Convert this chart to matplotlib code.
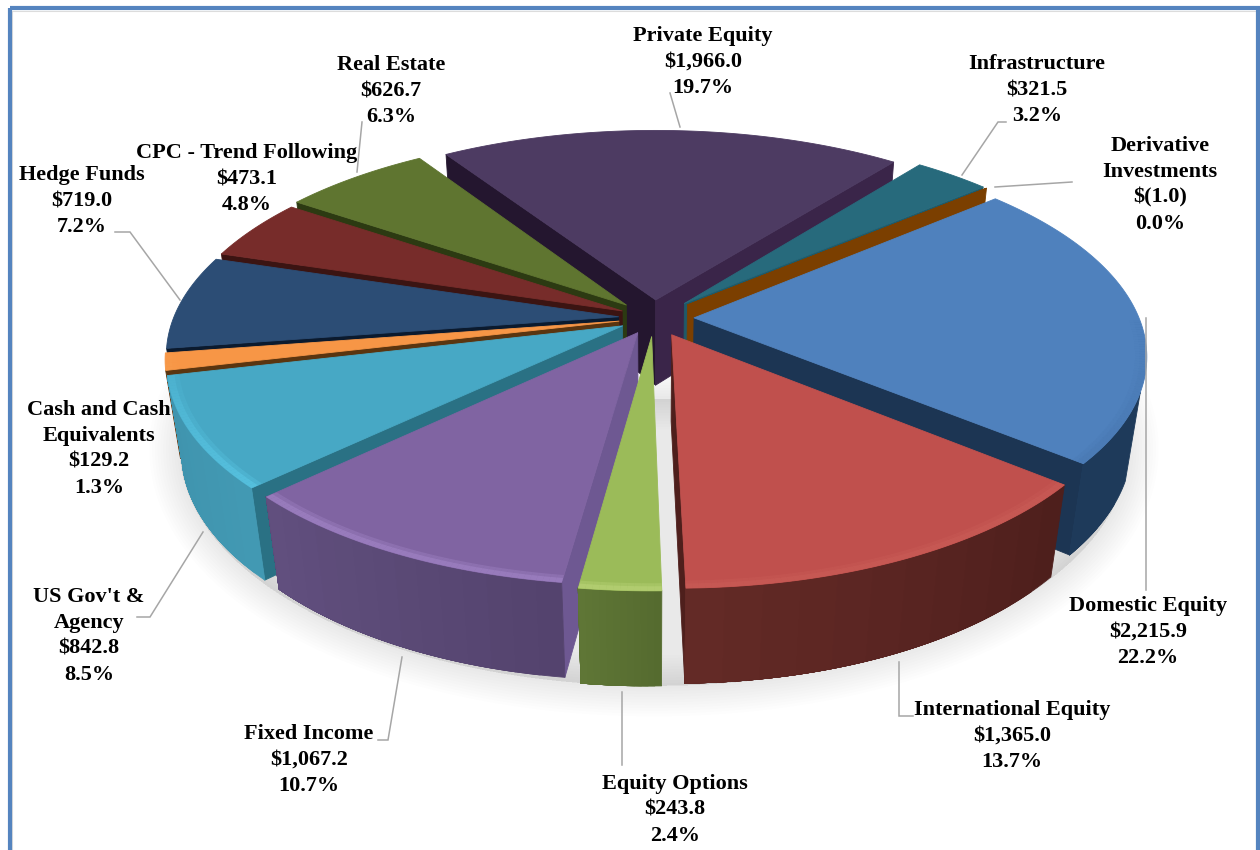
import numpy as np
import matplotlib
matplotlib.use("Agg")
import matplotlib.pyplot as plt
from matplotlib.patches import Polygon, Rectangle

# Portfolio allocation, in clockwise order
categories = ["Domestic Equity", "International Equity", "Equity Options", "Fixed Income",
              "US Gov't &\nAgency", "Cash and Cash\nEquivalents", "Hedge Funds",
              "CPC - Trend Following", "Real Estate", "Private Equity", "Infrastructure",
              "Derivative\nInvestments"]
amounts = [2215.9, 1365.0, 243.8, 1067.2, 842.8, 129.2, 719.0, 473.1, 626.7, 1966.0, 321.5, -1.0]
percents = ["22.2%", "13.7%", "2.4%", "10.7%", "8.5%", "1.3%", "7.2%", "4.8%", "6.3%", "19.7%", "3.2%", "0.0%"]

explode = [.09, .09, .09, .08, .08, .08, .08, .08, .09, .09, .10, .10]
top_colors = ["#4f81bd", "#c0504d", "#9bbb59", "#8064a2", "#47a8c5", "#f79646",
              "#2c4d75", "#772c2a", "#5f7530", "#4d3b62", "#276a7c", "#7b3f00"]
wall_left = ["#1e3a5a", "#652b27", "#5f7636", "#62507f", "#3f93ad", "#5a3510",
             "#10233c", "#3b1412", "#2c3a12", "#2a1a38", "#1f5a69", "#5a2e00"]
wall_right = ["#1e3a5a", "#4e1f1c", "#556b2f", "#54436e", "#4299b3", "#5a3510",
              "#10233c", "#3b1412", "#2c3a12", "#2a1a38", "#1f5a69", "#5a2e00"]
radial_cw = ["#1c3553", "#4e1f1c", "#5c7033", "#6e5892", "#2a7184", "#5a3510",
             "#0b1a2e", "#3b1412", "#2c3a12", "#3a2549", "#1f5a69", "#7b3f00"]
radial_ccw = ["#1c3553", "#612b27", "#5c7033", "#6e5892", "#2a7184", "#5a3510",
              "#0b1a2e", "#3b1412", "#2c3a12", "#24162f", "#1f5a69", "#7b3f00"]
rim_colors = ["#4a7ab4", "#c85a55", "#b4cf72", "#9c7fc0", "#58c4e2", "#f7a050",
              "#2c4d75", "#772c2a", "#5f7530", "#4d3b62", "#276a7c", "#7b3f00"]

label_xy = [(1148, 632), (1012, 736), (675, 810), (309, 760), (89, 636), (99, 449),
            (82, 201), (247, 179), (391, 91), (703, 62), (1037, 90), (1160, 185)]

leaders = [[(1146, 318), (1146, 590)], [(913, 716), (899, 716), (899, 662)],
           [(622, 692), (622, 765)], [(378, 740), (388, 740), (402, 657)],
           [(137, 617), (150, 617), (203, 532)], [(115, 232), (130, 232), (180, 300)],
           [(362, 122), (357, 172)], [(670, 93), (680, 127)],
           [(1006, 122), (998, 122), (962, 175)], [(1072, 182), (995, 187)]]

# Projection of the pie plane onto the page, with the far side foreshortened
CX, CY = 654.0, 318.0
RX, RY = 445.0, 204.0
PERSP = 0.17
DROP_W, DROP_H = 0.03, 88.5
START_DEG = 40.4


def project(u, v, lower=False):
    w = 1 + PERSP * v + (DROP_W if lower else 0)
    h = DROP_H if lower else 0
    return CX + RX * u / w, CY + (-RY * v + h) / w


def mix(c1, c2, t):
    a, b = np.array(matplotlib.colors.to_rgb(c1)), np.array(matplotlib.colors.to_rgb(c2))
    return tuple(a + (b - a) * t)


def money(x):
    return f"$({abs(x):,.1f})" if x < 0 else f"${x:,.1f}"


fig = plt.figure(figsize=(12.6, 8.5), dpi=100)
ax = fig.add_axes([0, 0, 1, 1])
ax.set_xlim(0, 1260)
ax.set_ylim(850, 0)
ax.axis("off")

# Page frame
ax.add_patch(Rectangle((12, 10.5), 1244, 850, fill=False, ec="#dcdcdc", lw=0.8, zorder=1))
ax.add_patch(Rectangle((10, 8), 1248, 850, fill=False, ec="#5584bf", lw=3.0, zorder=50))

# Soft shadow below the front half of the pie
th = np.radians(np.linspace(178, 362, 160))
sx, sy = project(1.08 * np.cos(th), 1.08 * np.sin(th), lower=True)
shadow = np.column_stack([sx, sy + 3])
for lw in range(44, 0, -4):
    ax.add_patch(Polygon(shadow, closed=True, fc="black", ec="black", lw=lw,
                         alpha=0.009, joinstyle="round", zorder=2))

# Wedges, from the far side to the near side
sizes = np.abs(amounts)
spans = 360.0 * sizes / sizes.sum()
ends = START_DEG - np.cumsum(spans)
starts = ends + spans
mids = np.radians((starts + ends) / 2)
order = np.argsort(-np.sin(mids))


def face(pts, color, z):
    ax.add_patch(Polygon(pts, closed=True, fc=color, ec=color, lw=0.6, joinstyle="round", zorder=z))


def visible(pts):
    # Page y runs downward, so faces turned to the viewer wind negatively
    x, y = np.array(pts).T
    return 0.5 * np.sum(x * np.roll(y, -1) - np.roll(x, -1) * y) < 0


z = 10.0
for i in order:
    ox, oy = explode[i] * np.cos(mids[i]), explode[i] * np.sin(mids[i])
    n = max(int(spans[i] * 1.5), 3)
    ang = np.radians(np.linspace(starts[i], ends[i], n))
    u, v = ox + np.cos(ang), oy + np.sin(ang)
    tip_t, tip_b = project(ox, oy), project(ox, oy, True)
    xt, yt = project(u, v)
    xb, yb = project(u, v, True)

    # The two flat cut faces of the wedge
    cut_a = [tip_t, (xt[0], yt[0]), (xb[0], yb[0]), tip_b]
    cut_b = [(xt[-1], yt[-1]), tip_t, tip_b, (xb[-1], yb[-1])]
    if visible(cut_a):
        face(cut_a, radial_ccw[i], z)
    if visible(cut_b):
        face(cut_b, radial_cw[i], z)
    z += 0.1

    # Curved outer wall: overlapping bands avoid seams between steps
    step = max((n - 1) // 12, 1)
    for k in range(0, n - 1, step):
        first = [(xt[k], yt[k]), (xt[k + 1], yt[k + 1]), (xb[k + 1], yb[k + 1]), (xb[k], yb[k])]
        if visible(first):
            band = list(zip(xt[k:], yt[k:])) + list(zip(xb[k:], yb[k:]))[::-1]
            face(band, mix(wall_left[i], wall_right[i], (n - 2 - k) / max(n - 2, 1)), z)
    z += 0.1

    # Top surface
    face([tip_t] + list(zip(xt, yt)), top_colors[i], z)
    z += 0.1

    # Bevelled rim, brightest toward the viewer
    for frac, alpha in ((0.975, 0.45), (0.985, 0.8)):
        xi, yi = project(ox + frac * np.cos(ang), oy + frac * np.sin(ang))
        for k in range(n - 1):
            strength = np.clip(-np.sin(ang[k]) * 1.3, 0, 1) * alpha
            if strength > 0:
                ax.add_patch(Polygon([(xt[k], yt[k]), (xt[k + 1], yt[k + 1]),
                                      (xi[k + 1], yi[k + 1]), (xi[k], yi[k])],
                                     closed=True, fc=rim_colors[i], ec="none",
                                     alpha=strength, zorder=z))
    z += 0.1

# Leader lines
for path in leaders:
    xs, ys = zip(*path)
    ax.plot(xs, ys, color="#a6a6a6", lw=1.1, zorder=40, solid_joinstyle="miter")

# Category labels with amount and share
for name, amt, pct, (lx, ly) in zip(categories, amounts, percents, label_xy):
    ax.text(lx, ly, f"{name}\n{money(amt)}\n{pct}", ha="center", va="center",
            family="Liberation Serif", fontweight="bold", fontsize=16, color="black",
            linespacing=1.38, zorder=45)

fig.savefig("out.png", dpi=100)
